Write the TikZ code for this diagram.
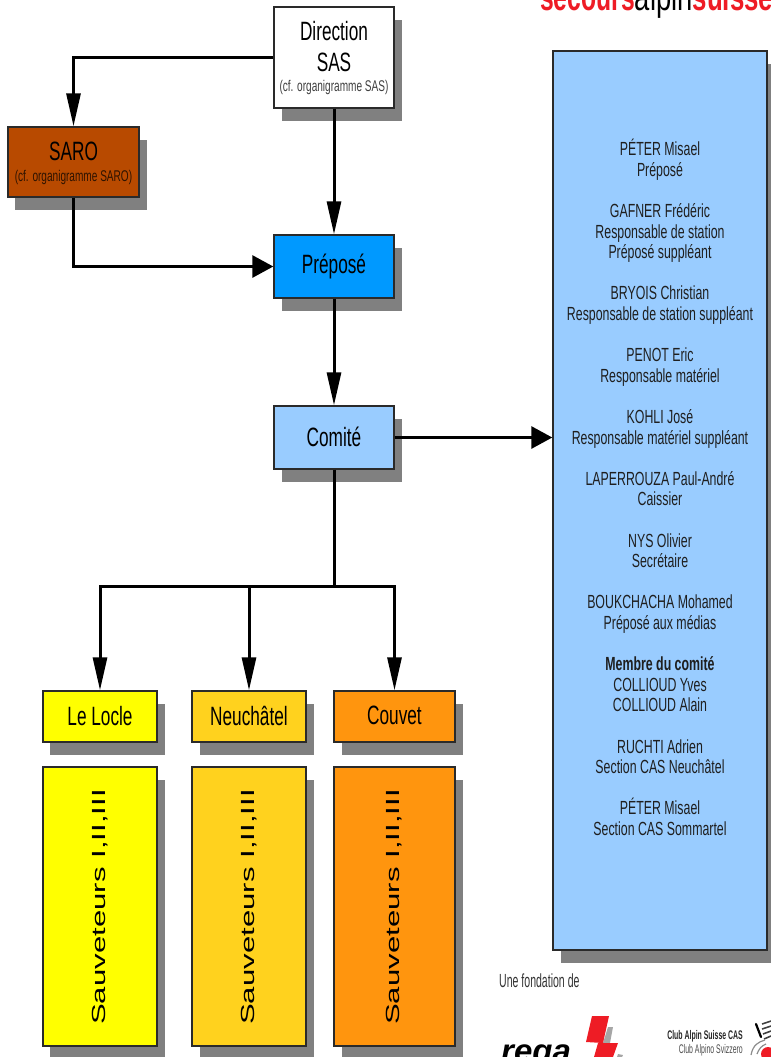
\documentclass[tikz,border=0pt]{standalone}
\usepackage{fontspec}
\usetikzlibrary{arrows.meta,shadows,calc}
\setmainfont[FakeStretch=0.65]{Liberation Sans}
\newfontfamily\widefont[FakeStretch=1.64]{Liberation Sans}
\newfontfamily\headfont[FakeStretch=0.65,BoldFont={Liberation Sans Bold}]{Liberation Sans}
\newfontfamily\alpinfont[FakeStretch=0.72]{Liberation Sans}
\newfontfamily\suissefont[FakeStretch=0.68,BoldFont={Liberation Sans Bold}]{Liberation Sans}
\newfontfamily\narrowfont[FakeStretch=0.555,BoldFont={Liberation Sans Bold}]{Liberation Sans}
\newfontfamily\regafont[BoldItalicFont={Liberation Sans Bold Italic}]{Liberation Sans}
\definecolor{shadowgray}{HTML}{808080}
\definecolor{edgecol}{HTML}{2A2A2A}
\definecolor{sarocol}{HTML}{B84A00}
\definecolor{prepcol}{HTML}{0099FF}
\definecolor{comcol}{HTML}{99CCFF}
\definecolor{locol}{HTML}{FFFF00}
\definecolor{necol}{HTML}{FFD21E}
\definecolor{cocol}{HTML}{FF950E}
\definecolor{redcol}{HTML}{EE1C25}
\tikzset{
  orgbox/.style={draw=edgecol,line width=1.4bp,inner sep=0pt,align=center,text=black,
    general shadow={fill=shadowgray,shadow xshift=7.5bp,shadow yshift=-13bp}},
  link/.style={line width=3bp,black},
  tip/.style={-{Triangle[length=33bp,width=14bp]}},
  tiph/.style={-{Triangle[length=21bp,width=22bp]}},
  big/.style={font=\fontsize{26.5bp}{27bp}\selectfont},
  vert/.style={rotate=90,font=\widefont\fontsize{19bp}{20bp}\selectfont},
  plain/.style={inner sep=0pt}
}
\begin{document}
\begin{tikzpicture}[x=1bp,y=-1bp]
\useasboundingbox (0,0) rectangle (771,1057);
\clip (0,0) rectangle (771,1057);
% header
\node[plain,anchor=base west] (head) at (540,10) {\fontsize{38bp}{38bp}\selectfont\headfont\textcolor{redcol}{\bfseries secours}\alpinfont alpin\suissefont\textcolor{redcol}{\bfseries suisse}};
% boxes
\node[orgbox,fill=white,minimum width=120bp,minimum height=101bp] (dir) at (334,57.5) {};
\node[plain,font=\fontsize{26.5bp}{31bp}\selectfont,align=center] (dirt) at (334,47) {Direction\\SAS};
\node[plain,font=\fontsize{15.5bp}{16bp}\selectfont,text=black!75] (dirs) at (334,87) {(cf. organigramme SAS)};
\node[orgbox,fill=sarocol,minimum width=131bp,minimum height=70bp] (saro) at (73.5,162) {};
\node[plain,font=\fontsize{26.5bp}{27bp}\selectfont] (sarot) at (73.5,151.5) {SARO};
\node[plain,font=\fontsize{15.5bp}{16bp}\selectfont,text=black!75!sarocol] (saros) at (73.5,177) {(cf. organigramme SARO)};
\node[orgbox,fill=prepcol,minimum width=120bp,minimum height=63bp,big] (prep) at (334,266.5) {Préposé};
\node[orgbox,fill=comcol,minimum width=120bp,minimum height=63bp,big] (com) at (334,437.5) {\raisebox{2.5bp}{Comité}};
\node[orgbox,fill=comcol,minimum width=214bp,minimum height=899bp] (team) at (660,500.5) {};
\node[plain,align=center,text=black!88,font=\fontsize{19bp}{20.6bp}\selectfont] (teamt) at (660,487.5) {PÉTER Misael\\Préposé\\[20.6bp]GAFNER Frédéric\\Responsable de station\\Préposé suppléant\\[20.6bp]BRYOIS Christian\\Responsable de station suppléant\\[20.6bp]PENOT Eric\\Responsable matériel\\[20.6bp]KOHLI José\\Responsable matériel suppléant\\[20.6bp]LAPERROUZA Paul-André\\Caissier\\[20.6bp]NYS Olivier\\Secrétaire\\[20.6bp]BOUKCHACHA Mohamed\\Préposé aux médias\\[20.6bp]\textbf{Membre du comité}\\COLLIOUD Yves\\COLLIOUD Alain\\[20.6bp]RUCHTI Adrien\\Section CAS Neuchâtel\\[20.6bp]PÉTER Misael\\Section CAS Sommartel};
\node[orgbox,fill=locol,minimum width=114bp,minimum height=51bp,big] (loc) at (100,716.5) {\raisebox{2bp}{Le Locle}};
\node[orgbox,fill=necol,minimum width=114bp,minimum height=51bp,big] (neu) at (249,716.5) {\raisebox{2bp}{Neuchâtel}};
\node[orgbox,fill=cocol,minimum width=121bp,minimum height=51bp,big] (cou) at (394.5,716.5) {\raisebox{2bp}{Couvet}};
\node[orgbox,fill=locol,minimum width=114bp,minimum height=279bp] (locs) at (100,906.5) {};
\node[orgbox,fill=necol,minimum width=114bp,minimum height=279bp] (neus) at (249,906.5) {};
\node[orgbox,fill=cocol,minimum width=121bp,minimum height=279bp] (cous) at (394.5,906.5) {};
\node[plain,vert] (locst) at (100,907) {Sauveteurs I,II,III};
\node[plain,vert] (neust) at (249,907) {Sauveteurs I,II,III};
\node[plain,vert] (coust) at (394.5,907) {Sauveteurs I,II,III};
% connectors
\draw[link,tip] (dir.west) -| (saro.north);
\draw[link,tip] (dir.south) -- (prep.north);
\draw[link,tiph] (saro.south) |- (prep.west);
\draw[link,tip] (prep.south) -- (com.north);
\draw[link,tiph] (com.east) -- (com.east -| team.west);
\coordinate (junction) at (334,586);
\draw[link] (com.south) -- (junction);
\draw[link,tip] (junction) -| (loc.north);
\draw[link,tip] (junction) -| (cou.north);
\draw[link,tip] (neu.north |- junction) -- (neu.north);
% logos
\node[plain,anchor=west,font=\narrowfont\fontsize{19bp}{20bp}\selectfont,text=black!80] (fond) at (499,981) {Une fondation de};
\node[plain,anchor=base west] (rega) at (501,1062) {\regafont\fontsize{33bp}{33bp}\selectfont\bfseries\itshape rega};
\fill[shadowgray!70] (608,1027) -- (613,1027) -- (610,1043) -- (603,1043) -- cycle;
\fill[shadowgray!70] (618,1054) -- (623,1055) -- (622,1057) -- (617,1057) -- cycle;
\fill[redcol] (592,1016) -- (609,1016) -- (603,1043) -- (586,1042) -- cycle;
\fill[redcol] (598,1043) -- (618,1043) -- (613,1057) -- (594,1057) -- cycle;
\node[plain,anchor=east,font=\narrowfont\fontsize{12.5bp}{13bp}\selectfont\bfseries,text=black!85] (cas) at (743,1036) {Club Alpin Suisse CAS};
\node[plain,anchor=east,font=\narrowfont\fontsize{12.5bp}{13bp}\selectfont,text=black!70] (cai) at (743,1050) {Club Alpino Svizzero};
% crest
\draw[black,line width=2.2bp,line cap=round] (756,1024) -- (761,1037);
\draw[black!75,line width=1.6bp] (762,1024) -- (771,1021) (762,1029) -- (771,1026) (763,1034) -- (771,1031) (764,1039) -- (771,1036);
\draw[black!45,line width=1.2bp] (751,1055) .. controls (753,1045) and (758,1042) .. (765,1040);
\draw[black!45,line width=1.2bp] (757,1054) .. controls (759,1049) and (761,1046) .. (766,1044);
\fill[redcol] (768,1054) circle (7bp);
\end{tikzpicture}
\end{document}
